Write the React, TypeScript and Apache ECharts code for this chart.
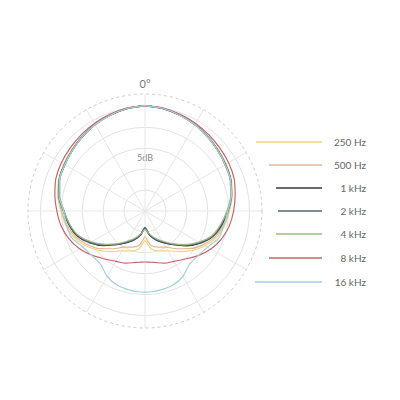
import { useEffect, useRef } from 'react'
import * as echarts from 'echarts'

// Polar pickup pattern, one line per frequency. Radius in dB (0 dB = front).
const ANGLES = [
  0, 10, 20, 30, 40, 50, 60, 70, 80, 90, 100, 110, 120, 130, 140, 150, 160, 170, 175, 180,
  185, 190, 200, 210, 220, 230, 240, 250, 260, 270, 280, 290, 300, 310, 320, 330, 340, 350, 360,
]

const NAMES = ['250 Hz', '500 Hz', '1 kHz', '2 kHz', '4 kHz', '8 kHz', '16 kHz']

const HZ_250 = [
  0.2, -0.1, -0.5, -1.0, -1.6, -2.1, -2.6, -3.0, -3.8, -4.8, -5.6, -6.7, -8.4, -10.3, -12.3, -14.0, -14.8, -15.7, -16.9, -17.9,
  -16.9, -15.7, -14.8, -14.0, -12.3, -10.4, -8.5, -6.8, -5.7, -4.9, -3.8, -3.0, -2.6, -2.1, -1.6, -1.0, -0.5, -0.1, 0.2,
]
const HZ_500 = [
  0.2, -0.1, -0.5, -1.0, -1.6, -2.2, -2.6, -3.1, -3.9, -4.9, -5.9, -7.1, -8.9, -11.0, -13.2, -15.0, -15.8, -16.6, -17.8, -18.9,
  -17.8, -16.6, -15.8, -15.0, -13.2, -11.0, -9.0, -7.2, -6.0, -5.0, -3.9, -3.1, -2.6, -2.2, -1.6, -1.0, -0.5, -0.1, 0.2,
]
const KHZ_1 = [
  0.2, -0.1, -0.6, -1.1, -1.7, -2.3, -2.8, -3.2, -4.0, -5.2, -6.3, -7.6, -9.7, -12.1, -14.5, -16.3, -17.7, -19.3, -20.4, -20.8,
  -20.4, -19.3, -17.7, -16.3, -14.5, -12.2, -9.8, -7.7, -6.5, -5.5, -4.1, -3.2, -2.8, -2.3, -1.7, -1.1, -0.6, -0.1, 0.2,
]
const KHZ_2 = [
  0.2, -0.1, -0.6, -1.1, -1.7, -2.3, -2.8, -3.2, -4.1, -5.3, -6.4, -7.7, -9.8, -12.2, -14.6, -16.4, -17.8, -19.4, -20.5, -21.1,
  -20.5, -19.4, -17.8, -16.4, -14.6, -12.3, -9.9, -7.8, -6.6, -5.6, -4.2, -3.2, -2.8, -2.3, -1.7, -1.1, -0.6, -0.1, 0.2,
]
const KHZ_4 = [
  0.2, -0.1, -0.6, -1.2, -1.8, -2.4, -2.9, -3.3, -4.2, -5.4, -6.6, -7.9, -10.1, -12.5, -14.8, -16.7, -18.1, -19.5, -20.2, -20.6,
  -20.2, -19.5, -18.1, -16.7, -14.8, -12.6, -10.2, -8.0, -6.7, -5.6, -4.3, -3.3, -2.9, -2.4, -1.8, -1.2, -0.6, -0.1, 0.2,
]
const KHZ_8 = [
  0.2, 0.0, -0.4, -0.8, -1.2, -1.6, -1.9, -2.3, -3.1, -3.8, -4.5, -5.5, -6.8, -8.4, -10.0, -11.1, -11.7, -12.5, -12.7, -12.8,
  -12.7, -12.5, -11.7, -11.1, -10.0, -8.5, -6.9, -5.6, -4.6, -3.9, -3.1, -2.3, -1.9, -1.6, -1.2, -0.8, -0.4, 0.0, 0.2,
]
const KHZ_16 = [
  0.2, -0.1, -0.6, -1.1, -1.7, -2.3, -2.8, -3.2, -4.0, -5.2, -5.8, -6.2, -7.7, -8.4, -8.4, -6.9, -6.0, -5.7, -5.6, -5.6,
  -5.6, -5.7, -6.0, -6.9, -8.4, -8.4, -7.8, -6.3, -5.9, -5.5, -4.1, -3.2, -2.8, -2.3, -1.7, -1.1, -0.6, -0.1, 0.2,
]
const VALUES = [HZ_250, HZ_500, KHZ_1, KHZ_2, KHZ_4, KHZ_8, KHZ_16]

const COLORS = ['#f1d57c', '#e2b794', '#383838', '#596277', '#9bbb88', '#c7626b', '#9fd1de']
const WIDTHS = [1.2, 1.2, 1.5, 1.3, 1.2, 1.2, 1.2]

const FONT = "Lato, 'Open Sans', sans-serif"

// layout (px)
const CX = 145
const CY = 211
const RADIUS = 117
const DB_MIN = -25
const DB_MAX = 3
const LEGEND_Y = [142, 165, 188, 211, 234, 258, 282]
const LEGEND_LEFT = [256, 269, 276, 278, 276, 269, 255]
const LINE_END = 322
const LABEL_W = 39

function buildOption(): echarts.EChartsCoreOption {
  return {
    animation: false,
    polar: { center: [CX, CY], radius: RADIUS },
    angleAxis: {
      type: 'value',
      min: 0,
      max: 360,
      interval: 30,
      startAngle: 90,
      clockwise: true,
      axisLine: { lineStyle: { color: '#cdcdcd', type: [3, 3], width: 1 } },
      axisTick: { show: false },
      axisLabel: {
        formatter: (v: number) => (v === 0 ? '0°' : ''),
        margin: 5,
        color: '#777',
        fontSize: 11,
        fontFamily: FONT,
      },
      splitLine: { lineStyle: { color: '#e7e7e7', width: 1 } },
    },
    radiusAxis: {
      type: 'value',
      min: DB_MIN,
      max: DB_MAX,
      interval: 5,
      axisLine: { show: false },
      axisTick: { show: false },
      axisLabel: { show: false },
      // last circle (at max) hidden: the dashed angle-axis line sits there
      splitLine: {
        lineStyle: {
          color: ['#e3e3e3', '#e3e3e3', '#e3e3e3', '#e3e3e3', '#e3e3e3', '#e3e3e3', 'rgba(0,0,0,0)'],
          width: 1,
        },
      },
    },
    legend: NAMES.map((name, i) => ({
      data: [name],
      left: LEGEND_LEFT[i],
      top: LEGEND_Y[i] - 6,
      padding: 0,
      icon: 'rect',
      itemWidth: LINE_END - LEGEND_LEFT[i],
      itemHeight: 1.5,
      selectedMode: false,
      formatter: (n: string) => `{r|${n}}`,
      textStyle: {
        width: LABEL_W,
        lineHeight: 12,
        rich: {
          r: { align: 'right', fontSize: 10, lineHeight: 12, color: '#666', fontFamily: FONT },
        },
      },
    })),
    graphic: [
      {
        type: 'text',
        x: CX,
        y: CY - 54,
        style: {
          text: '5dB',
          fill: '#8a8a8a',
          fontSize: 9,
          fontFamily: FONT,
          align: 'center',
          verticalAlign: 'middle',
        },
      },
    ],
    series: NAMES.map((name, i) => ({
      name,
      type: 'line',
      coordinateSystem: 'polar',
      data: ANGLES.map((a, k) => [VALUES[i][k], a]),
      symbol: 'none',
      smooth: 0.3,
      color: COLORS[i],
      lineStyle: { color: COLORS[i], width: WIDTHS[i] },
      emphasis: { disabled: true },
    })),
  }
}

export default function App() {
  const ref = useRef<HTMLDivElement>(null)

  useEffect(() => {
    const el = ref.current
    if (!el) return
    const chart = echarts.init(el, undefined, { renderer: 'svg' })
    chart.setOption(buildOption())
    return () => chart.dispose()
  }, [])

  return (
    <div
      ref={ref}
      style={{ position: 'fixed', left: 0, top: 0, width: 400, height: 400, background: '#fff' }}
    />
  )
}
